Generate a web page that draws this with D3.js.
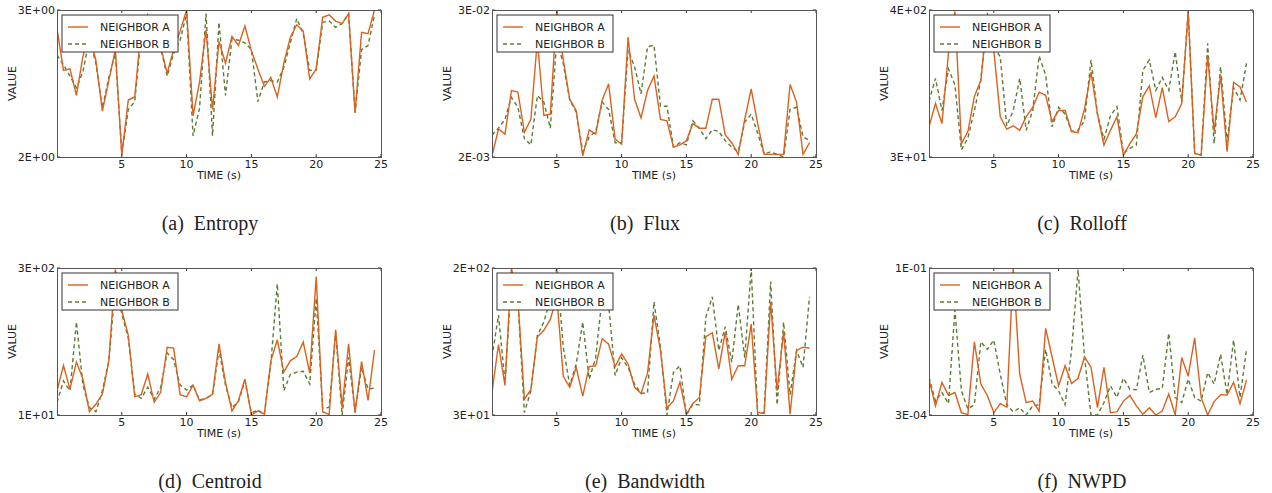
<!DOCTYPE html>
<style>
  body { margin: 0; background: white; }
  svg { display: block; }
  .frame { fill: none; stroke: #555; stroke-width: 1; }
  .tick { stroke: #333; stroke-width: 1; }
  .axtext { font-family: "DejaVu Sans", sans-serif; font-size: 11px; fill: #222; }
  .caption { font-family: "Liberation Serif", serif; font-size: 20px; fill: #222; }
  .lineA { fill: none; stroke: #d9621e; stroke-width: 1.4; }
  .lineB { fill: none; stroke: #5b7b35; stroke-width: 1.4; stroke-dasharray: 4 3; }
</style>
<body>
</body>
<script src="https://cdn.jsdelivr.net/npm/d3@7/dist/d3.min.js"></script>
<script>
  const time = [0, 0.5, 1, 1.5, 2, 2.5, 3, 3.5, 4, 4.5, 5, 5.5, 6, 6.5, 7, 7.5, 8, 8.5, 9, 9.5,
    10, 10.5, 11, 11.5, 12, 12.5, 13, 13.5, 14, 14.5, 15, 15.5, 16, 16.5, 17, 17.5, 18, 18.5, 19, 19.5,
    20, 20.5, 21, 21.5, 22, 22.5, 23, 23.5, 24, 24.5];
  const xTicks = [5, 10, 15, 20, 25];
  const seriesNames = ['NEIGHBOR A', 'NEIGHBOR B'];
  const captions = ['(a)  Entropy', '(b)  Flux', '(c)  Rolloff', '(d)  Centroid', '(e)  Bandwidth', '(f)  NWPD'];
  const yDomains = [[2, 3], [2e-3, 3e-2], [30, 400], [10, 300], [30, 200], [3e-4, 1e-1]];
  const yLabels = [['2E+00', '3E+00'], ['2E-03', '3E-02'], ['3E+01', '4E+02'], ['1E+01', '3E+02'], ['3E+01', '2E+02'], ['3E-04', '1E-01']];

  const entropyA = [2.85, 2.54, 2.55, 2.37, 2.64, 2.81, 2.61, 2.27, 2.47, 2.69, 2.01, 2.34, 2.36, 2.86, 2.95, 2.81, 2.71, 2.52, 2.69, 2.83,
    3.0, 2.24, 2.46, 2.84, 2.28, 2.75, 2.59, 2.79, 2.72, 2.87, 2.68, 2.55, 2.43, 2.49, 2.36, 2.59, 2.78, 2.88, 2.83, 2.48,
    2.55, 2.94, 2.96, 2.91, 2.89, 2.97, 2.26, 2.82, 2.81, 3.0];
  const entropyB = [2.65, 2.58, 2.50, 2.42, 2.53, 2.77, 2.59, 2.29, 2.49, 2.66, 2.02, 2.28, 2.33, 2.81, 2.96, 2.81, 2.70, 2.50, 2.66, 2.76,
    2.97, 2.12, 2.29, 2.97, 2.12, 2.90, 2.37, 2.77, 2.76, 2.74, 2.69, 2.33, 2.46, 2.47, 2.46, 2.56, 2.74, 2.93, 2.81, 2.54,
    2.54, 2.90, 2.91, 2.86, 2.89, 2.97, 2.26, 2.69, 2.72, 2.96];
  const fluxA = [0.00204, 0.00335, 0.00305, 0.0068, 0.0066, 0.00315, 0.0040, 0.0172, 0.0043, 0.0044, 0.030, 0.0119, 0.0058, 0.0047, 0.00204, 0.0033, 0.00305, 0.0057, 0.0077, 0.00278,
    0.00253, 0.0182, 0.0058, 0.0041, 0.0068, 0.0089, 0.0040, 0.0039, 0.0024, 0.0025, 0.0027, 0.0037, 0.0034, 0.0034, 0.0058, 0.0058, 0.0030, 0.0026, 0.0021, 0.0040,
    0.0070, 0.0037, 0.0021, 0.0021, 0.0021, 0.0021, 0.0076, 0.0055, 0.0021, 0.0026];
  const fluxB = [0.0030, 0.0034, 0.0040, 0.0060, 0.0050, 0.0028, 0.0025, 0.0062, 0.0055, 0.0034, 0.0174, 0.0112, 0.0057, 0.0046, 0.0022, 0.0029, 0.0032, 0.0055, 0.0048, 0.0026,
    0.0026, 0.0143, 0.0106, 0.0064, 0.0152, 0.0157, 0.0051, 0.0051, 0.0024, 0.0026, 0.0025, 0.0039, 0.0034, 0.0028, 0.0033, 0.0032, 0.0027, 0.0024, 0.0022, 0.0038,
    0.0044, 0.0031, 0.0021, 0.0022, 0.0021, 0.0020, 0.0048, 0.0050, 0.0029, 0.0027];
  const rolloffA = [51, 77, 54, 186, 390, 38, 47, 87, 116, 350, 197, 61, 49, 52, 48, 61, 72, 94, 89, 56,
    68, 68, 47, 46, 70, 134, 64, 37, 48, 61, 31, 38, 45, 87, 105, 60, 102, 56, 61, 77,
    390, 32, 31, 181, 47, 127, 33, 112, 103, 79];
  const rolloffB = [80, 120, 68, 142, 107, 34, 42, 68, 116, 380, 210, 175, 52, 68, 120, 48, 68, 178, 127, 51,
    72, 64, 47, 48, 57, 166, 64, 41, 62, 73, 32, 35, 37, 138, 166, 97, 122, 97, 192, 79,
    390, 32, 31, 222, 38, 147, 39, 102, 82, 157];
  const centroidA = [17.5, 31.4, 18.2, 34, 23, 10.8, 12.8, 16.2, 35, 290, 113, 63, 15.2, 16, 25.8, 13.4, 16.9, 48, 47, 16,
    15.2, 20, 13.9, 14.7, 16.2, 52, 21.3, 11, 13.9, 23, 10, 11, 10.2, 35, 57, 27, 35, 38.7, 54, 26.3,
    246, 10.8, 10.1, 72, 11.9, 52, 10.5, 34.5, 14, 45];
  const centroidB = [13.4, 22, 17.5, 86, 20, 11.9, 10.8, 17.5, 35, 200, 104, 59, 16.2, 14.7, 19, 14.4, 19, 42, 36, 20,
    17.8, 20, 14.1, 14.7, 16, 45, 20, 11.9, 13.6, 22, 10.5, 11.2, 10.2, 33, 208, 17.5, 25.5, 27, 27.5, 20.5,
    149, 11.7, 11.9, 68, 10, 38, 10.8, 30, 18.2, 18.6];
  const bandwidthA = [40.1, 74.5, 43.9, 200, 133, 36.8, 41.6, 82, 89.5, 103, 138, 49.4, 42.9, 55.5, 38.3, 56, 56.6, 80.3, 74.8, 56,
    66, 58, 42.9, 39.6, 51.5, 109, 69, 32.7, 36, 45.8, 30.3, 34.8, 37.5, 82.5, 86.7, 54.4, 87.8, 47.6, 56.6, 56.6,
    97, 31, 30.6, 129, 41, 87.8, 30.3, 69, 72, 71];
  const bandwidthB = [63.3, 109, 45.8, 170, 130, 31, 41, 83.8, 99.5, 133, 200, 72, 43.9, 58, 99.5, 47.6, 62.8, 138, 125, 50,
    62.8, 55.5, 44.6, 39.6, 40, 129, 72, 30, 52, 56.6, 30, 34.5, 34.2, 106, 138, 69, 93.7, 59.3, 125, 62.8,
    200, 30, 31, 168, 34.2, 99.5, 39, 69, 55.5, 138];
  const nwpdA = [1.24e-3, 4.3e-4, 1.09e-3, 6.5e-4, 7.3e-4, 3.3e-4, 3.05e-4, 5.4e-3, 1.02e-3, 6.5e-4, 3.3e-4, 4.7e-4, 4.1e-4, 0.1, 1.5e-3, 4.9e-4, 5.2e-4, 3.5e-4, 9.2e-3, 2.97e-3,
    9.5e-4, 2.1e-3, 1.04e-3, 1.28e-3, 2.97e-3, 1.98e-3, 4.0e-4, 1.98e-3, 3.3e-4, 3.4e-4, 5.2e-4, 6.5e-4, 4.3e-4, 3.1e-4, 4.0e-4, 3.0e-4, 3.5e-4, 6.9e-4, 3.0e-4, 2.9e-3,
    1.39e-3, 6.3e-3, 6.0e-4, 3.0e-4, 5.1e-4, 6.7e-4, 6.6e-4, 1.09e-3, 4.7e-4, 1.2e-3];
  const nwpdB = [1.33e-3, 5.2e-4, 7.3e-4, 4.7e-4, 1.9e-2, 7.8e-4, 3.8e-4, 4.5e-4, 5.4e-3, 4.0e-3, 5.8e-3, 1.5e-3, 4.5e-4, 3.4e-4, 4.0e-4, 3.0e-4, 4.3e-4, 4.5e-4, 4.0e-3, 1.02e-3,
    7.8e-4, 4.5e-4, 3.9e-3, 9.4e-2, 2.97e-3, 3.0e-4, 3.0e-4, 4.9e-4, 9.5e-4, 6.0e-4, 1.28e-3, 8.3e-4, 8.1e-4, 3.2e-3, 7.3e-4, 8.3e-4, 8.6e-4, 7.6e-3, 6.0e-4, 4.9e-4,
    1.24e-3, 6.0e-4, 5.2e-4, 1.6e-3, 1.02e-3, 3.3e-3, 6.7e-4, 5.8e-3, 6.0e-4, 4.0e-3];

  const panelSeries = [
    [entropyA, entropyB], [fluxA, fluxB], [rolloffA, rolloffB],
    [centroidA, centroidB], [bandwidthA, bandwidthB], [nwpdA, nwpdB]
  ];

  const W = 1272, H = 493;
  const colLeft = [57, 492, 929];
  const rowTop = [10, 268];
  const pw = 324, ph = 147;

  const svg = d3.select('body').append('svg')
    .attr('width', W).attr('height', H);

  panelSeries.forEach((series, i) => {
    const l = colLeft[i % 3], t = rowTop[Math.floor(i / 3)];
    const g = svg.append('g').attr('transform', `translate(${l}, ${t})`);

    const x = d3.scaleLinear().domain([0, 25]).range([0, pw]);
    const y = d3.scaleLog().domain(yDomains[i]).range([ph, 0]);

    g.append('clipPath').attr('id', `clip${i}`)
      .append('rect').attr('width', pw).attr('height', ph);

    const line = d3.line().x((d, j) => x(time[j])).y(d => y(d));
    const lines = g.append('g').attr('clip-path', `url(#clip${i})`);
    lines.append('path').datum(series[1]).attr('class', 'lineB').attr('d', line);
    lines.append('path').datum(series[0]).attr('class', 'lineA').attr('d', line);

    // inward ticks on all four sides
    g.selectAll('.xtb').data(xTicks).join('line').attr('class', 'tick')
      .attr('x1', d => x(d)).attr('x2', d => x(d)).attr('y1', ph).attr('y2', ph - 3);
    g.selectAll('.xtt').data(xTicks).join('line').attr('class', 'tick')
      .attr('x1', d => x(d)).attr('x2', d => x(d)).attr('y1', 0).attr('y2', 3);
    g.selectAll('.ytl').data(yDomains[i]).join('line').attr('class', 'tick')
      .attr('x1', 0).attr('x2', 3).attr('y1', d => y(d)).attr('y2', d => y(d));
    g.selectAll('.ytr').data(yDomains[i]).join('line').attr('class', 'tick')
      .attr('x1', pw).attr('x2', pw - 3).attr('y1', d => y(d)).attr('y2', d => y(d));

    g.append('rect').attr('class', 'frame')
      .attr('x', 0.5).attr('y', 0.5).attr('width', pw).attr('height', ph);

    g.selectAll('.xl').data(xTicks).join('text').attr('class', 'axtext')
      .attr('x', d => x(d)).attr('y', ph + 11).attr('text-anchor', 'middle').text(d => d);
    g.selectAll('.yl').data(yDomains[i]).join('text').attr('class', 'axtext')
      .attr('x', -2).attr('y', d => y(d)).attr('dy', '0.35em')
      .attr('text-anchor', 'end').text((d, j) => yLabels[i][j]);

    g.append('text').attr('class', 'axtext')
      .attr('x', pw / 2).attr('y', ph + 22).attr('text-anchor', 'middle').text('TIME (s)');
    g.append('text').attr('class', 'axtext')
      .attr('transform', `translate(-41, ${ph / 2}) rotate(-90)`)
      .attr('text-anchor', 'middle').text('VALUE');

    // legend
    const lg = g.append('g').attr('transform', 'translate(5, 5)');
    lg.append('rect').attr('width', 116).attr('height', 37)
      .attr('fill', 'white').attr('stroke', '#333').attr('stroke-width', 1);
    seriesNames.forEach((name, k) => {
      const yy = 12 + k * 17;
      lg.append('line').attr('class', k === 0 ? 'lineA' : 'lineB')
        .attr('x1', 6).attr('x2', 26).attr('y1', yy).attr('y2', yy);
      lg.append('text').attr('class', 'axtext')
        .attr('x', 38).attr('y', yy).attr('dy', '0.35em').text(name);
    });

    svg.append('text').attr('class', 'caption')
      .attr('x', l + pw / 2 - 9).attr('y', t + ph + 73)
      .attr('text-anchor', 'middle').style('white-space', 'pre').text(captions[i]);
  });
</script>
